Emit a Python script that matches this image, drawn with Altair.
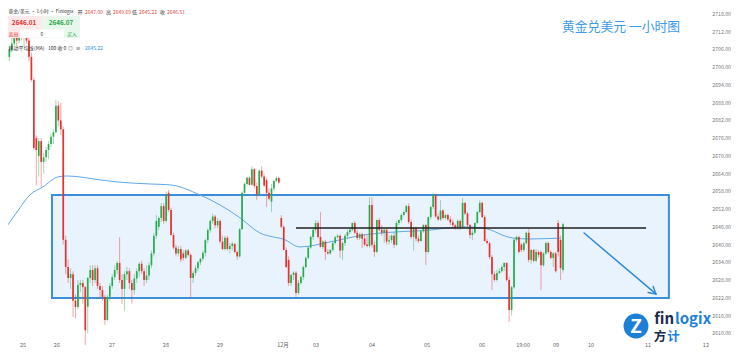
import altair as alt
import pandas as pd

# ---------------- data ----------------
opens = [2689,2691,2694.7,2703.5,2706,2708,2711,2709,2712,2710,2711,2709,2703.5,2695.7,2676,2670,2675,2668,2669.5,2672,
         2674,2676.5,2678,2687,2682,2679,2641.6,2632.4,2628.7,2630,2621,2618.9,2626.3,2627,2625.6,2619,2628.7,2631.4,2628,2632,
         2626,2624.6,2622.3,2614.5,2622.3,2626,2629,2631.4,2633.8,2628,2625,2630,2631,2627,2624.6,2628.5,2631,2633.5,2631,2628,
         2629.5,2633,2637,2643,2646,2649,2653,2648,2657.5,2651.7,2643.2,2639,2637,2638.5,2637,2635.5,2638,2636.5,2628.7,2630.4,
         2632,2634,2635.2,2637.2,2641.5,2644.9,2648,2649.5,2646.5,2648,2641,2638.5,2642.3,2638.5,2639.5,2640.3,2637.5,2636,2645.2,2657.5,2660.5,2662.6,
         2660.2,2665.5,2659.8,2657,2665,2663,2661.8,2657.5,2654.5,2659,2661.5,2662.5,2649,2646,2638.2,2634.8,2627,2629.7,2630.5,2623.6,
         2627,2629,2632.4,2635.5,2639,2642.6,2645,2647.3,2642.6,2639.2,2641,2637.5,2637,2638.2,2640.5,2642.5,2643,2638,2640.5,2643,
         2644.2,2645,2647.3,2644,2642.2,2643.5,2642,2640,2639.5,2653.4,2639.9,2637.5,2648.3,2645,2644,2645,2641,2641.5,2643,2639.9,
         2647.3,2648.3,2650,2651,2653,2647.6,2642.6,2645.6,2642,2641.2,2644.5,2646.6,2637.5,2649.3,2652.7,2656.8,2649.5,2648.5,2651.5,2649,
         2650,2648.5,2647.5,2646.5,2645.8,2648,2645.8,2654.1,2650.5,2646.6,2643.2,2644,2647.3,2651,2654.1,2649.3,2641.2,2640.5,2635.8,2630,
         2628,2630.4,2631,2632.4,2633.8,2628,2617.9,2625.6,2641.6,2642.6,2640,2638.2,2640.5,2644,2634.8,2638.2,2634.5,2637.5,2637.5,2633,
         2637,2640.5,2637.5,2635.5,2637,2647.3,2641.6,2631.4]
highs = [2692,2695,2704,2707,2710,2713,2712,2713.5,2714,2712,2713,2711,2705,2696.5,2677,2676,2676,2671,2673,2675,
         2677.5,2679,2689,2688.5,2688,2680,2643,2635,2632,2631,2623,2628,2628,2628,2626,2629,2633,2633,2633,2633,
         2627,2626,2623,2623,2627,2630,2633,2634.5,2642.5,2630,2631,2632.5,2632,2628,2630,2632,2634,2634.5,2632,2633,
         2634,2638,2644,2650,2649.5,2654,2654,2658,2658.5,2652.5,2644,2640,2639.5,2639.5,2638,2638.5,2638.5,2637,2631,2633,
         2634.5,2635.5,2638,2642,2645.5,2648.5,2650.5,2650,2649,2648.5,2643,2643,2643,2640.5,2641,2640,2638,2645.6,2658,2661,2663,2663,
         2666.5,2666,2661,2665.5,2666.5,2664,2662.5,2659,2660.5,2662,2663,2663,2650,2646.5,2639,2636,2630,2631,2631,2628,
         2629.5,2633,2636,2639.5,2643,2645.5,2648.3,2648,2651,2641.5,2641.5,2638.5,2638.5,2641,2643,2643.5,2643.5,2641,2643.5,2645,
         2645.5,2647.5,2648,2645,2644,2644,2643.5,2643,2656,2656,2641,2648.5,2649,2646.5,2645.5,2645.5,2643,2643.5,2644,2648,
         2648.5,2650.5,2651.5,2653.5,2654,2648.5,2646,2646,2643,2645,2647,2647,2649.5,2653,2657.5,2657.2,2650.5,2655,2652,2650.5,
         2650.5,2649.5,2648.5,2647,2648.5,2648.5,2655.8,2654.5,2651,2647,2645,2647.5,2651.5,2655,2654.5,2650,2642,2641,2636.5,2631,
         2631.5,2632,2633,2634,2634,2629,2626,2642,2643,2643,2640.5,2641,2644.5,2645.5,2638.5,2638.5,2638.5,2638,2638,2637.5,
         2641,2641,2638,2637.5,2637.5,2648.3,2643,2647.5]
lows = [2684,2684.8,2694,2702,2705,2707,2707,2708,2709,2707,2708,2702,2695,2672,2660,2663,2659.5,2664,2668,2669,
        2673,2674,2677.5,2680,2677,2640,2630,2627,2625,2615.5,2615,2618,2624,2620,2606,2610,2627,2626,2627,2625,
        2622,2621,2612.8,2614,2621,2625,2628,2630,2627,2620,2617.5,2628,2625,2620,2623,2627,2629,2630,2626,2627,
        2628,2632,2636,2642,2645,2647.6,2647,2647.5,2651,2643,2638.5,2636,2636,2634,2634.5,2635,2636,2622,2627,2629.5,
        2631,2633,2634.5,2636,2640.5,2644,2647,2645.5,2645.5,2640.5,2638,2638,2638,2637,2638,2637,2634.8,2635.5,2645,2656.5,2660,2660,
        2660,2659,2655,2656.5,2662.5,2659.5,2652.7,2655,2651,2658,2661,2660.5,2645.5,2638,2632,2626,2626,2628,2622.3,2623,
        2626.5,2628,2632,2635,2638.5,2641.5,2644,2642,2639,2638.5,2634.8,2636.5,2636.5,2637.5,2640,2642,2635.5,2634.8,2639.5,2642,
        2643.5,2644.5,2643.5,2641.5,2641.5,2638.8,2639.5,2639,2639,2639,2635.8,2637,2644.5,2643,2640.5,2640,2640,2640.5,2638.8,2639.5,
        2646.5,2647.5,2649.5,2650.5,2647,2642,2638,2641,2640.5,2641,2644,2633.1,2637,2648.5,2652,2649,2648,2648,2648.5,2648.5,
        2648,2646.5,2645.5,2645,2645,2645,2645.5,2650,2646,2642,2641.5,2643.5,2647,2650.5,2649,2641,2640,2635,2624.6,2627.5,
        2627.5,2630,2630.5,2631,2627.5,2613.8,2616,2625,2641,2637,2637.5,2637.5,2640,2634,2633.5,2634,2634,2635.5,2624.6,2632.5,
        2636.5,2637,2635,2632.5,2630.5,2636,2628,2630.5]
closes = [2691,2694.7,2703.5,2706,2708,2711,2709,2712,2710,2711,2709,2703.5,2695.7,2672.7,2672,2675,2668,2669.5,2672,2674,
          2676.5,2678,2687,2682,2679,2641.6,2632.4,2628.7,2630,2621,2618.9,2626.3,2627,2625.6,2611,2628.7,2631.4,2628,2632,2626,
          2624.6,2622.3,2614.5,2622.3,2626,2629,2631.4,2633.8,2628,2625,2630,2631,2627,2624.6,2628.5,2631,2633.5,2631,2628,2629.5,
          2633,2637,2643,2648,2649,2653,2648,2657,2651.7,2643.2,2639,2637,2638.5,2635,2635.5,2638,2636.5,2628.7,2630.4,2632,
          2634,2635.2,2637.2,2641.5,2644.9,2648,2649.5,2646.5,2648,2641,2638.5,2642.3,2638.5,2639.5,2640.3,2637.5,2636,2645.2,2657.5,2660.5,2662.6,2660.2,
          2665.5,2659.8,2657,2665,2663,2660,2657.5,2655.5,2659,2661.5,2662.5,2661,2646,2638.2,2632.4,2627,2629.7,2630.5,2623.6,2627,
          2629,2632.4,2635.5,2639,2642.6,2645,2647.3,2642.6,2639.2,2641,2637.5,2637,2638.2,2640.5,2642.5,2643,2638,2640.5,2643,2644.2,
          2645,2647.3,2644,2642.2,2643.5,2642,2640,2639.5,2653.4,2639.9,2637.5,2648.3,2645,2644,2645,2641,2641.5,2643,2639.9,2647.3,
          2648.3,2650,2651,2653,2647.6,2642.6,2645.6,2642,2641.2,2644.5,2646.6,2637.5,2649.3,2652.7,2656.8,2649.5,2648.5,2651.5,2649,2650,
          2648.5,2647.5,2646.5,2645.8,2648,2645.8,2654.1,2650.5,2646.6,2643.2,2644,2647.3,2651,2654.1,2649.3,2641.2,2640.5,2635.8,2630,2628,
          2630.4,2631,2632.4,2633.8,2628,2617.9,2625.6,2641.6,2642.6,2637.5,2638.2,2640.5,2644,2634.8,2638.2,2634.5,2637.5,2636.5,2633,2637,
          2640.5,2637.5,2635.5,2637,2631,2637.5,2632,2646.9]

# 100-period moving average (bar index, price)
ma_bar = [0.4,6.1,11.4,16.7,22.9,26.5,40.0,46.9,60.4,68.6,80.8,89.0,97.1,105.3,110.6,114.7,121.6,133.9,147.3,161.2,
          174.7,181.6,188.2,196.3,208.6,215.5,227.8]
ma_val = [2644.3,2651.0,2656.8,2659.5,2662.9,2663.2,2661.9,2661.2,2660.5,2660.2,2656.8,2653.4,2649.1,2643.9,2642.6,2641.9,
          2639.2,2640.9,2643.2,2644.3,2644.9,2645.6,2646.0,2645.6,2642.2,2641.9,2642.2]

# time-axis labels (bar index, text)
tick_bar = [8.6,22.4,44.9,66.9,89.0,114.7,128.2,151.0,173.5,195.9,212.7,226.1,240.4,263.7,287.3]
tick_txt = ["25","26","27","28","29","12月","03","04","05","06","19:00","09","10","11","12"]

# price-axis tick values
price_ticks = [2610 + 6 * k for k in range(19)]

# annotations (bar index / price)
range_box = dict(b0=20.4, b1=272.2, top=2656.8, bottom=2621.9)
resist = dict(b0=120.0, b1=262.9, p=2645.6)
arrow = dict(b0=237.6, p0=2643.9, b1=266.9, p1=2623.3)
arrow_head = [dict(b0=266.9, p0=2623.3, b1=265.8, p1=2625.8), dict(b0=266.9, p0=2623.3, b1=263.7, p1=2623.8)]

# ---------------- chart ----------------
W, H = 712, 348
XS = alt.Scale(domain=[-0.816, 289.8], nice=False, zero=False)
YS = alt.Scale(domain=[2605.01, 2722.74], nice=False, zero=False)
GREEN, RED = "#27ad4b", "#e5322d"
CJK = "Noto Sans CJK SC"

df = pd.DataFrame({"bar": list(range(len(closes))), "open": opens, "high": highs, "low": lows, "close": closes})
df["dir"] = ["up" if c >= o else "down" for o, c in zip(opens, closes)]
col = alt.Color("dir:N", scale=alt.Scale(domain=["up", "down"], range=[GREEN, RED]), legend=None)

box = alt.Chart(pd.DataFrame([range_box])).mark_rect(fill="#e9f3fd", stroke="#3a8edb", strokeWidth=2).encode(
    x=alt.X("b0:Q", scale=XS, axis=None), x2="b1:Q",
    y=alt.Y("top:Q", scale=YS, axis=None), y2="bottom:Q")

ma = alt.Chart(pd.DataFrame({"bar": ma_bar, "v": ma_val})).mark_line(
    color="#5ea8ec", strokeWidth=1, interpolate="monotone").encode(
    x=alt.X("bar:Q", scale=XS, axis=None), y=alt.Y("v:Q", scale=YS, axis=None))

wick = alt.Chart(df).mark_rule(strokeWidth=0.8, opacity=0.55).encode(
    x=alt.X("bar:Q", scale=XS, axis=None), y=alt.Y("low:Q", scale=YS, axis=None), y2="high:Q", color=col)

body = alt.Chart(df).mark_rule(strokeWidth=1.7, strokeCap="butt").encode(
    x=alt.X("bar:Q", scale=XS, axis=None), y=alt.Y("open:Q", scale=YS, axis=None), y2="close:Q", color=col)

res = alt.Chart(pd.DataFrame([resist])).mark_rule(color="#1f1f1f", strokeWidth=1.4).encode(
    x=alt.X("b0:Q", scale=XS, axis=None), x2="b1:Q", y=alt.Y("p:Q", scale=YS, axis=None))

arr = alt.Chart(pd.DataFrame([arrow] + arrow_head)).mark_rule(color="#2b8be0", strokeWidth=1.5, strokeCap="round").encode(
    x=alt.X("b0:Q", scale=XS, axis=None), x2="b1:Q", y=alt.Y("p0:Q", scale=YS, axis=None), y2="p1:Q")

xlab = alt.Chart(pd.DataFrame({"bar": tick_bar, "t": tick_txt})).mark_text(
    fontSize=5.5, color="#666", font=CJK, baseline="middle").encode(
    x=alt.X("bar:Q", scale=XS, axis=None), y=alt.value(344.5), text="t:N")

ylab = alt.Chart(pd.DataFrame({"p": price_ticks, "t": [f"{v:.2f}" for v in price_ticks]})).mark_text(
    fontSize=5.2, color="#777", font=CJK, baseline="middle", align="right").encode(
    x=alt.value(731), y=alt.Y("p:Q", scale=YS, axis=None), text="t:N")


def txt(t, x, y, size=5.5, color="#333", align="left", weight="normal"):
    return alt.Chart(pd.DataFrame({"t": [t]})).mark_text(
        fontSize=size, color=color, align=align, baseline="middle", font=CJK, fontWeight=weight).encode(
        x=alt.value(x), y=alt.value(y), text="t:N")


def rect(x0, x1, y0, y1, fill):
    return alt.Chart(pd.DataFrame({"a": [0]})).mark_rect(fill=fill).encode(
        x=alt.value(x0), x2=alt.value(x1), y=alt.value(y0), y2=alt.value(y1))


HY = 11.8
header = [
    txt("黄金/美元 · 1小时 · Finlogix", 8.5, HY, size=4.8),
    txt("开", 77.5, HY, size=5), txt("2647.00", 85, HY, size=5, color="#e0463c"),
    txt("高", 106, HY, size=5), txt("2649.69", 113, HY, size=5, color="#e0463c"),
    txt("低", 132, HY, size=5), txt("2645.22", 139, HY, size=5, color="#e0463c"),
    txt("收", 160, HY, size=5), txt("2646.51", 167, HY, size=5, color="#e0463c"),
    rect(5, 42, 16, 38, "#fde9e9"), rect(42, 80, 16, 38, "#e7f7ec"),
    rect(20, 64, 29.5, 37.5, "#ffffff"),
    txt("2646.01", 24, 22.5, size=6.3, color="#e5322d", align="center", weight="bold"),
    txt("2646.07", 61, 22.5, size=6.3, color="#27a846", align="center", weight="bold"),
    txt("卖出", 13.5, 33.5, size=5, color="#e5322d", align="center"),
    txt("6", 42, 33.5, size=5, color="#444", align="center"),
    txt("买入", 72, 33.5, size=5, color="#27a846", align="center"),
    txt("移动平均线", 8.5, 47.5, size=5), txt("(MA)", 34, 47.5, size=5),
    txt("100 收 0", 48, 47.5, size=5), txt("◎", 68, 47.5, size=5, color="#555"),
    txt("⊚", 76, 47.5, size=5, color="#555"),
    txt("2645.22", 85, 47.5, size=5, color="#2a8de8"),
]

title = txt("黄金兑美元 一小时图", 562, 27, size=12.8, color="#3d9be9")

logo_circle = alt.Chart(pd.DataFrame({"a": [0]})).mark_circle(size=620, color="#1d80d8", opacity=1).encode(
    x=alt.value(636), y=alt.value(326))
logo = [
    logo_circle,
    txt("Z", 636, 326.5, size=19, color="#ffffff", align="center", weight="bold"),
    txt("fin", 674, 318.5, size=15, color="#1b2b4b", align="right", weight="bold"),
    txt("logix", 675, 318.5, size=15, color="#1d80d8", weight="bold"),
    txt("方", 660, 336.5, size=12.5, color="#1b2b4b", align="center", weight="bold"),
    txt("计", 673.5, 336.5, size=12.5, color="#1d80d8", align="center", weight="bold"),
]

chart = alt.layer(box, ma, wick, body, res, arr, xlab, ylab, *header, title, *logo).properties(
    width=W, height=H, autosize="none",
    padding={"left": -8, "top": -8, "right": 20, "bottom": 0},
    background="#ffffff",
).configure_view(stroke=None)

chart.save("out.html", embed_options={"renderer": "svg", "actions": False})
